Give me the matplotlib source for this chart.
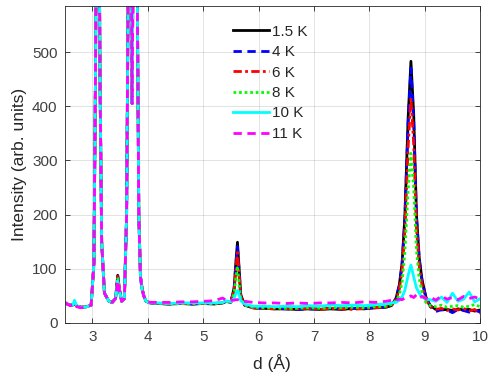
import matplotlib
matplotlib.use('Agg')
import matplotlib.pyplot as plt

plt.rcParams['font.family'] = ['Liberation Sans', 'DejaVu Sans']

# === d grid (Å) ===
d = [2.50, 2.55, 2.60, 2.65, 2.68, 2.72, 2.80, 2.90, 2.98, 3.03,
     3.06, 3.08, 3.10, 3.12, 3.14, 3.17, 3.22, 3.30, 3.36, 3.42,
     3.46, 3.49, 3.53, 3.58, 3.62, 3.66, 3.69, 3.72, 3.75, 3.78,
     3.81, 3.84, 3.87, 3.90, 3.93, 3.97, 4.05, 4.20, 4.40, 4.60,
     4.80, 5.00, 5.20, 5.35, 5.42, 5.50, 5.56, 5.59, 5.62, 5.65,
     5.68, 5.75, 5.90, 6.10, 6.30, 6.50, 6.70, 6.90, 7.10, 7.30,
     7.50, 7.70, 7.90, 8.10,
     8.30, 8.40, 8.48, 8.54, 8.59, 8.64, 8.70, 8.75, 8.80, 8.85,
     8.90, 8.95, 9.02, 9.10, 9.20, 9.30, 9.40, 9.50, 9.60, 9.70,
     9.80, 9.90, 10.00]

# === intensities (arb. units) ===
i_1p5K = [38, 35, 33, 33, 36, 31, 29, 30, 33, 110,
          480, 900, 1000, 820, 450, 150, 55, 40, 38, 45,
          88, 62, 40, 45, 200, 800, 900, 405, 900, 850,
          650, 200, 85, 64, 50, 40, 37, 36, 35, 36,
          35, 36, 35, 37, 40, 38, 65, 110, 149, 100,
          52, 33, 28, 27, 26, 26, 25, 26, 25, 26,
          25, 27, 26, 28,
          29, 32, 45, 70, 110, 195, 380, 483, 385, 200,
          120, 80, 48, 32, 25, 24, 25, 23, 26, 24,
          25, 22, 24]
i_4K = [38, 35, 33, 33, 36, 31, 29, 30, 33, 110,
        480, 900, 1000, 820, 450, 150, 55, 40, 38, 45,
        86, 62, 40, 45, 200, 800, 900, 405, 900, 850,
        650, 200, 85, 63, 50, 40, 37, 36, 35, 36,
        35, 36, 36, 37, 40, 38, 63, 105, 141, 96,
        50, 33, 28, 27, 27, 26, 25, 26, 26, 27,
        26, 27, 27, 28,
        30, 33, 45, 68, 107, 190, 370, 470, 375, 195,
        117, 78, 47, 30, 21, 25, 24, 19, 25, 23,
        20, 24, 20]
i_6K = [38, 35, 33, 33, 36, 31, 29, 30, 33, 110,
        480, 900, 1000, 820, 450, 150, 55, 40, 38, 45,
        86, 62, 40, 45, 200, 800, 900, 405, 900, 850,
        650, 200, 85, 63, 50, 40, 37, 36, 35, 36,
        35, 36, 36, 37, 40, 38, 60, 97, 130, 88,
        48, 33, 28, 27, 26, 27, 26, 27, 25, 27,
        26, 25, 27, 28,
        30, 33, 43, 62, 96, 170, 325, 415, 330, 175,
        105, 70, 43, 30, 25, 27, 23, 26, 24, 27,
        22, 25, 18]
i_8K = [38, 35, 33, 33, 38, 31, 29, 30, 33, 110,
        480, 900, 1000, 820, 450, 150, 55, 40, 38, 45,
        84, 62, 40, 45, 200, 800, 900, 405, 900, 850,
        650, 200, 85, 62, 50, 40, 37, 36, 36, 36,
        36, 36, 36, 37, 40, 38, 55, 82, 105, 74,
        45, 33, 29, 28, 28, 27, 27, 28, 27, 28,
        28, 29, 28, 30,
        31, 34, 41, 52, 75, 130, 245, 313, 250, 135,
        82, 57, 38, 32, 30, 33, 29, 31, 32, 29,
        31, 34, 30]
i_10K = [37, 35, 33, 33, 42, 31, 29, 30, 33, 110,
         480, 900, 1000, 820, 450, 150, 55, 40, 38, 45,
         78, 60, 40, 45, 200, 800, 900, 405, 900, 850,
         650, 200, 85, 60, 50, 40, 37, 37, 36, 37,
         37, 37, 37, 38, 41, 39, 46, 54, 60, 52,
         41, 35, 31, 31, 30, 31, 30, 32, 31, 33,
         32, 33, 32, 34,
         35, 37, 38, 42, 48, 60, 88, 107, 85, 65,
         55, 48, 44, 43, 40, 48, 38, 55, 40, 44,
         57, 39, 45]
i_11K = [37, 35, 32, 33, 36, 30, 28, 30, 33, 110,
         480, 900, 1000, 820, 450, 150, 55, 40, 38, 45,
         78, 60, 40, 45, 200, 800, 900, 405, 900, 850,
         650, 200, 85, 60, 50, 40, 38, 38, 38, 39,
         39, 40, 41, 46, 42, 42, 42, 43, 43, 42,
         41, 40, 38, 37, 37, 36, 37, 36, 37, 37,
         38, 37, 39, 38,
         40, 42, 42, 44, 43, 46, 48, 50, 47, 52,
         46, 49, 45, 48, 42, 50, 44, 47, 43, 49,
         45, 48, 44]

series = [
    ('1.5 K', i_1p5K, 'k', '-'),
    ('4 K', i_4K, '#0000ff', (0, (3.0, 2.0))),
    ('6 K', i_6K, '#ff0000', (0, (3.0, 1.2, 1.0, 1.2))),
    ('8 K', i_8K, '#00ff00', (0, (1.0, 1.0))),
    ('10 K', i_10K, '#00ffff', '-'),
    ('11 K', i_11K, '#ff00ff', (0, (3.0, 2.0))),
]

# === 描画 ===
fig = plt.figure(figsize=(4.89, 3.76), dpi=100)
ax = fig.add_axes([0.132, 0.141, 0.850, 0.843])

for label, vals, color, ls in series:
    ax.plot(d, vals, color=color, linestyle=ls, linewidth=2.0, label=label)

ax.set_xlim(2.5, 10)
ax.set_ylim(0, 585)
ax.set_xticks(range(3, 11))
ax.set_yticks(range(0, 600, 100))
ax.grid(True, color='#262626', alpha=0.15, linewidth=0.6)
ax.set_axisbelow(True)

axis_col = '#262626'
for sp in ax.spines.values():
    sp.set_color(axis_col)
    sp.set_linewidth(0.6)
ax.tick_params(direction='in', length=3.5, width=0.6, colors=axis_col,
               labelsize=11, top=True, right=True, pad=5)
for t in ax.get_xticklabels() + ax.get_yticklabels():
    t.set_color('#404040')

ax.set_xlabel('d (Å)', fontsize=12.5, color='#262626', labelpad=7)
ax.set_ylabel('Intensity (arb. units)', fontsize=12.5, color='#262626', labelpad=4)

leg = ax.legend(loc='upper left', bbox_to_anchor=(0.39, 0.96), frameon=False,
                fontsize=11, handlelength=2.4, handletextpad=0.15,
                labelspacing=0.42, borderaxespad=0)
for txt in leg.get_texts():
    txt.set_color('#262626')

plt.savefig('out.png', dpi=100)
